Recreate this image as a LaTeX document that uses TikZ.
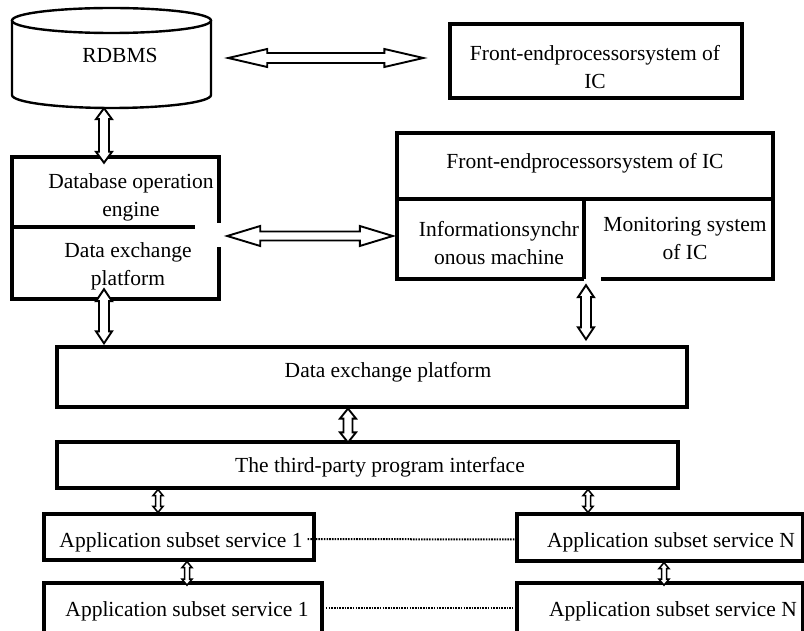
\documentclass[tikz,border=0pt]{standalone}
\usepackage{fontspec}
\setmainfont{Liberation Serif}
\usetikzlibrary{calc}
\begin{document}
\begin{tikzpicture}[x=1pt,y=-1pt,
  box/.style={draw=black, line width=3.2pt, inner sep=0pt},
  frame/.style={inner sep=0pt},
  edge/.style={draw=black, line width=3.2pt},
  cylline/.style={draw=black, line width=2.4pt},
  txt/.style={font=\fontsize{21.5}{28}\selectfont, align=center, inner sep=0pt, text=black},
  blk/.style={draw=black, fill=white, line width=1.9pt, line join=miter},
  varr/.style n args={3}{to path={let \p1=(\tikztostart), \p2=(\tikztotarget) in
     (\x1,\y1) -- (\x1+#2,\y1-#1) -- (\x1+#3,\y1-#1) -- (\x1+#3,\y2+#1) -- (\x1+#2,\y2+#1) -- (\x1,\y2) -- (\x1-#2,\y2+#1) -- (\x1-#3,\y2+#1) -- (\x1-#3,\y1-#1) -- (\x1-#2,\y1-#1) -- cycle}},
  harr/.style n args={3}{to path={let \p1=(\tikztostart), \p2=(\tikztotarget) in
     (\x1,\y1) -- (\x1+#1,\y1+#2) -- (\x1+#1,\y1+#3) -- (\x2-#1,\y1+#3) -- (\x2-#1,\y1+#2) -- (\x2,\y1) -- (\x2-#1,\y1-#2) -- (\x2-#1,\y1-#3) -- (\x1+#1,\y1-#3) -- (\x1+#1,\y1-#2) -- cycle}},
  dots/.style={draw=black, line width=2pt, dash pattern=on 1.6pt off 1.1pt}
]
\useasboundingbox (0,0) rectangle (804,631);
\clip (0,0) rectangle (804,631);
\fill[white] (0,0) rectangle (804,631);

% anchor frames
\node[frame, minimum width=199pt, minimum height=100pt] (cyl) at (111.5,58) {};
\node[frame, minimum width=207pt, minimum height=142pt] (lbox) at (115.5,228) {};
\node[frame, minimum width=376pt, minimum height=146pt] (rbox) at (585,206) {};

% cylinder
\draw[cylline] (12,20.5) -- (12,95) arc[start angle=180, end angle=360, x radius=99.5pt, y radius=13pt] -- (211,20.5);
\draw[cylline] (111.5,20.5) ellipse [x radius=99.5pt, y radius=12.5pt];

% left composite box
\draw[edge] (219,223) -- (219,157) -- (12,157) -- (12,299) -- (219,299) -- (219,247);
\draw[edge] (12,227) -- (195,227);

% right composite box
\draw[edge] (584,279) -- (397,279) -- (397,133) -- (773,133) -- (773,279) -- (601,279);
\draw[edge] (397,199) -- (773,199);
\draw[edge] (584,199) -- (584,279);

% plain boxes
\node[box, minimum width=292pt, minimum height=74pt] (fbox) at (596,61) {};
\node[box, minimum width=630pt, minimum height=60pt] (dbox) at (372,377) {};
\node[box, minimum width=621pt, minimum height=46pt] (tbox) at (367.5,465) {};
\node[box, minimum width=270pt, minimum height=46pt] (a1) at (179,537) {};
\node[box, minimum width=286pt, minimum height=47pt] (aN) at (660,537.5) {};
\node[box, line width=3.6pt, minimum width=278pt, minimum height=57pt] (b1) at (183,611.5) {};
\node[box, line width=3.6pt, minimum width=286pt, minimum height=57pt] (bN) at (660,611.5) {};

% texts
\node[txt] (trdbms) at (120,55) {RDBMS};
\node[txt] (tfbox) at (595,67) {Front-endprocessorsystem of\\IC};
\node[txt] (tdoe) at (131,197) {Database operation\\engine};
\node[txt] (tdep1) at (128,266) {Data exchange\\platform};
\node[txt] (trtop) at (585,163) {Front-endprocessorsystem of IC};
\node[txt] (tinfo) at (499,243) {Informationsynchr\\onous machine};
\node[txt] (tmon) at (685,238) {Monitoring system\\of IC};
\node[txt] (tdep) at (388,372) {Data exchange platform};
\node[txt] (ttp) at (380,467) {The third-party program interface};
\node[txt] (ta1) at (181,542) {Application subset service 1};
\node[txt] (taN) at (671,542) {Application subset service N};
\node[txt] (tb1) at (187,611) {Application subset service 1};
\node[txt] (tbN) at (673,611) {Application subset service N};

% block arrows
\draw[blk] ([xshift=17pt]cyl.east) to[harr={39pt}{9pt}{5pt}] ([xshift=-25pt]fbox.west);
\draw[blk] ([shift={(8,8)}]lbox.east) to[harr={33pt}{10pt}{4.5pt}] ([xshift=-4pt]rbox.west);
\draw[blk] ([xshift=-7.5pt]cyl.south) to[varr={11pt}{8pt}{5pt}] ([xshift=-11.5pt,yshift=-6pt]lbox.north);
\draw[blk] ([xshift=-11.5pt,yshift=10pt]lbox.south) to[varr={12pt}{8pt}{5pt}] ([yshift=2pt]dbox.north);
\draw[blk] ([xshift=1pt,yshift=-6pt]rbox.south) to[varr={12pt}{8pt}{5pt}] ([yshift=6pt]dbox.north);
\draw[blk] ([xshift=-24pt]dbox.south) to[varr={10pt}{8pt}{4.5pt}] ([yshift=-2pt]tbox.north);
\draw[blk, line width=1.5pt] ([xshift=-209.5pt]tbox.south) to[varr={6pt}{5pt}{2.5pt}] (a1.north);
\draw[blk, line width=1.5pt] ([xshift=220.5pt]tbox.south) to[varr={6pt}{5pt}{2.5pt}] (aN.north);
\draw[blk, line width=1.5pt] ([xshift=8pt]a1.south) to[varr={6pt}{5pt}{2.5pt}] ([yshift=-4pt]b1.north);
\draw[blk, line width=1.5pt] ([xshift=4pt]aN.south) to[varr={6pt}{5pt}{2.5pt}] ([yshift=-4pt]bN.north);

% dotted links
\draw[dots] ([xshift=-8pt,yshift=-2pt]a1.east) -- ([yshift=-2pt]aN.west);
\draw[dots] ([xshift=2pt,yshift=3.5pt]b1.east) -- ([xshift=-2pt,yshift=3.5pt]bN.west);
\end{tikzpicture}
\end{document}
